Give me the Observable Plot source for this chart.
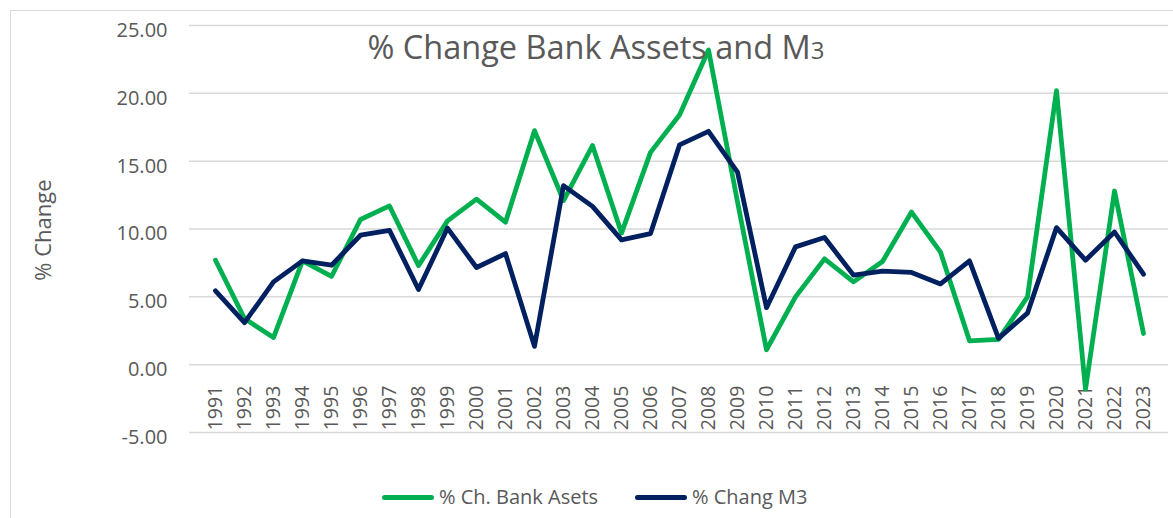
<!DOCTYPE html>
<html>
<head>
<meta charset="utf-8">
<script src="https://cdn.jsdelivr.net/npm/d3@7"></script>
<script src="https://cdn.jsdelivr.net/npm/@observablehq/plot@0.6"></script>
<style>
  html, body { margin: 0; padding: 0; background: #fff; }
  #wrap { position: relative; width: 1173px; height: 518px; overflow: hidden; font-family: "Open Sans", sans-serif; color: #595959; }
  #frame { position: absolute; left: 10px; top: 10px; width: 1250px; height: 600px; border: 1.5px solid #d9d9d9; box-sizing: border-box; }
  #chart { position: absolute; left: 0; top: 0; }
  #title { position: absolute; left: 596px; top: 31px; transform: translateX(-50%); font-size: 32.5px; line-height: 1; white-space: nowrap; color: #595959; z-index: 2; }
  #title .sub { font-size: 24px; }
  #ylabel { position: absolute; left: 42px; top: 230px; transform: translate(-50%, -50%) rotate(-90deg); font-size: 22px; line-height: 1; white-space: nowrap; }
  #legend { position: absolute; top: 487px; left: 0; width: 1173px; height: 24px; font-size: 20px; line-height: 1; }
  .lg { position: absolute; top: 0; display: flex; align-items: center; white-space: nowrap; }
  .sw { display: inline-block; width: 52px; height: 5px; border-radius: 3px; margin-right: 5px; }
</style>
</head>
<body>
<div id="wrap">
  <div id="frame"></div>
  <div id="chart"></div>
  <div id="title"></div>
  <div id="ylabel"></div>
  <div id="legend"></div>
</div>
<script>
const years = [1991,1992,1993,1994,1995,1996,1997,1998,1999,2000,2001,2002,2003,2004,2005,2006,2007,2008,2009,2010,2011,2012,2013,2014,2015,2016,2017,2018,2019,2020,2021,2022,2023];
const bankAssets = [7.7,3.4,2.0,7.65,6.5,10.7,11.7,7.3,10.6,12.2,10.5,17.25,12.1,16.15,9.7,15.65,18.4,23.2,12.0,1.1,5.0,7.8,6.1,7.6,11.25,8.3,1.76,1.87,5.0,20.2,-1.8,12.8,2.3];
const m3 = [5.44,3.1,6.1,7.65,7.33,9.54,9.9,5.54,10.07,7.16,8.19,1.35,13.2,11.67,9.2,9.66,16.2,17.2,14.2,4.2,8.68,9.37,6.6,6.9,6.8,5.95,7.65,1.94,3.8,10.1,7.7,9.78,6.67];
const yTicks = [-5, 0, 5, 10, 15, 20, 25];
const seriesNames = ["% Ch. Bank Asets", "% Chang M3"];
const seriesColors = ["#00B050", "#002060"];
const titleMain = "% Change Bank Assets and M";
const titleSub = "3";
const yLabel = "% Change";

const yearLabels = years.map(String);
const data = years.map((yr, i) => ({year: String(yr), bank: bankAssets[i], m3: m3[i]}));

const chart = Plot.plot({
  width: 1173,
  height: 518,
  marginTop: 25,
  marginBottom: 86,
  marginLeft: 189,
  marginRight: 5,
  style: {fontFamily: '"Open Sans", sans-serif', fontSize: "20px", color: "#595959", background: "transparent", overflow: "visible"},
  x: {type: "point", domain: yearLabels, padding: 0.5, axis: null},
  y: {domain: [-5, 25], ticks: yTicks, axis: null},
  marks: [
    Plot.gridY(yTicks, {stroke: "#d9d9d9", strokeOpacity: 1, strokeWidth: 1.5}),
    Plot.axisY(yTicks, {tickSize: 0, tickPadding: 22, tickFormat: d => d.toFixed(2), label: null, fill: "#595959", fontSize: 20, dy: 5}),
    Plot.text(yearLabels, {x: d => d, y: () => 0, rotate: -90, textAnchor: "end", dy: 21, fill: "#595959", fontSize: 19.5}),
    Plot.line(data, {x: "year", y: "bank", stroke: seriesColors[0], strokeWidth: 4.8}),
    Plot.line(data, {x: "year", y: "m3", stroke: seriesColors[1], strokeWidth: 4.8})
  ]
});
document.getElementById("chart").appendChild(chart);

const t = document.getElementById("title");
t.append(titleMain);
const s = document.createElement("span");
s.className = "sub";
s.textContent = titleSub;
t.appendChild(s);

document.getElementById("ylabel").textContent = yLabel;

const legend = document.getElementById("legend");
const lefts = [382, 635];
seriesNames.forEach((name, i) => {
  const item = document.createElement("div");
  item.className = "lg";
  item.style.left = lefts[i] + "px";
  const sw = document.createElement("span");
  sw.className = "sw";
  sw.style.background = seriesColors[i];
  item.appendChild(sw);
  item.append(name);
  legend.appendChild(item);
});
</script>
</body>
</html>
